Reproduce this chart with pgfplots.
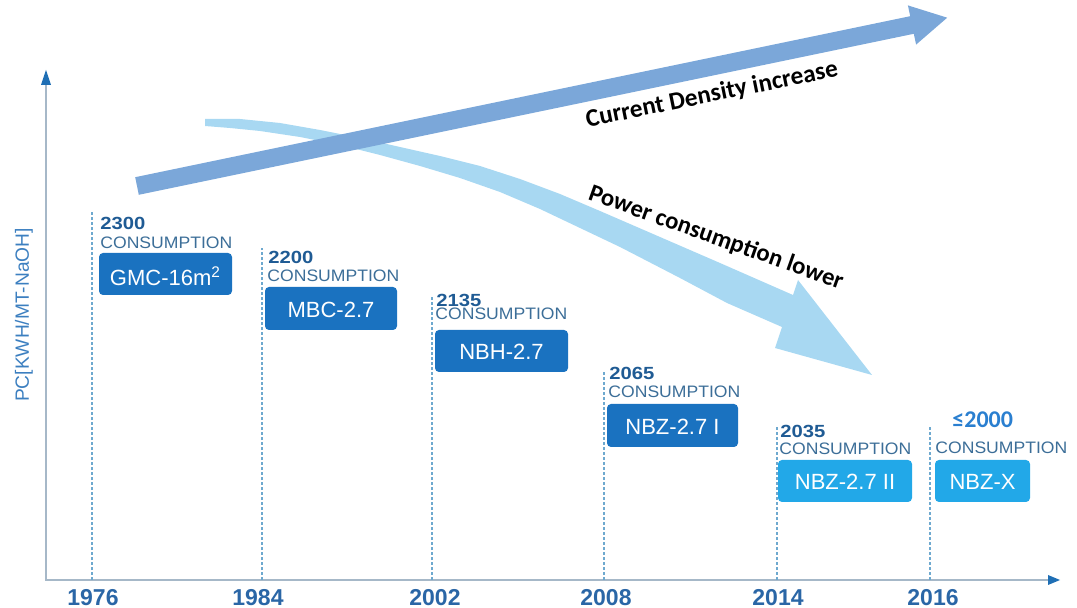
\documentclass[border=0pt]{standalone}
\usepackage{pgfplots}
\pgfplotsset{compat=1.18}
\usepackage{fontspec}
\setmainfont{Liberation Sans}
\newfontfamily\calfont{Carlito}
\definecolor{axisgray}{HTML}{A6B8C8}
\definecolor{arrowblue}{HTML}{1F6FB5}
\definecolor{dashblue}{HTML}{6EA9CF}
\definecolor{yearblue}{HTML}{2A66A6}
\definecolor{valblue}{HTML}{1F5B94}
\definecolor{consblue}{HTML}{3C6E98}
\definecolor{boxdark}{HTML}{1A72C0}
\definecolor{boxlight}{HTML}{22A8E8}
\definecolor{bigarrow}{HTML}{7BA7D9}
\definecolor{lightarrow}{HTML}{A8D8F2}
\definecolor{ylabblue}{HTML}{3C7FC0}
\definecolor{lessblue}{HTML}{2A7FD0}
\newcommand\yearfont{\fontsize{11.5pt}{13pt}\selectfont\bfseries}
\newcommand\valfont{\fontsize{8.8pt}{10pt}\selectfont\bfseries}
\newcommand\consfont{\fontsize{8.3pt}{10pt}\selectfont}
\newcommand\boxfont{\fontsize{11pt}{12pt}\selectfont}
\newcommand\V[1]{\scalebox{1.15}[1]{#1}}
\newcommand\C{\scalebox{1.06}[1]{CONSUMPTION}}
\tikzset{yr/.style={font=\yearfont,text=yearblue,inner sep=0},
  vl/.style={anchor=base west,inner sep=0,font=\valfont,text=valblue},
  cs/.style={anchor=base west,inner sep=0,font=\consfont,text=consblue},
  bx/.style={font=\boxfont,text=white}}
\begin{document}
\begin{tikzpicture}
\begin{axis}[width=538.5pt,height=304pt,scale only axis,hide axis,
  xmin=0,xmax=1077,ymin=0,ymax=608,y dir=reverse,clip=false]
\path (axis cs:0,0) rectangle (axis cs:1077,608);
% curved light arrow
\addplot[fill=lightarrow,draw=none] coordinates {
(205,119) (240,119) (280,123) (320,130) (360,138) (400,147) (440,156) (480,166) (520,179) (560,194)
(600,211) (660,237) (720,263) (793,295) (798,280) (872,375) (775,348) (782,327)
(727,303) (680,278) (620,247) (580,228) (540,209) (500,192) (460,178) (420,166) (380,155) (340,145)
(300,137) (260,131) (230,128) (205,126)} -- cycle;
% straight arrow
\addplot[fill=bigarrow,draw=none] coordinates {
(135.2,177.2) (910.2,16.2) (907.9,5.4) (947.2,17.7) (916.1,44.6) (913.8,33.8) (138.8,194.8)} -- cycle;
% axes
\addplot[axisgray,line width=1pt] coordinates {(46,84) (46,580) (1050,580)};
\addplot[fill=arrowblue,draw=none] coordinates {(41,85) (46,70) (51,85)} -- cycle;
\addplot[fill=arrowblue,draw=none] coordinates {(1048,575) (1060,580) (1048,585)} -- cycle;
% dashed lines
\pgfplotsset{dl/.style={dashblue,line width=0.6pt,dash pattern=on 1.5pt off 1pt}}
\addplot[dl] coordinates {(92,580) (92,212)};
\addplot[dl] coordinates {(262,580) (262,248)};
\addplot[dl] coordinates {(432,580) (432,297)};
\addplot[dl] coordinates {(604,580) (604,370)};
\addplot[dl] coordinates {(777,580) (777,427)};
\addplot[dl] coordinates {(930,580) (930,425)};
% years
\node[yr] at (axis cs:93,598) {1976};
\node[yr] at (axis cs:258,598) {1984};
\node[yr] at (axis cs:435,598) {2002};
\node[yr] at (axis cs:606,598) {2008};
\node[yr] at (axis cs:778,598) {2014};
\node[yr] at (axis cs:933,598) {2016};
% value labels
\node[vl] at (axis cs:100,230) {\V{2300}};
\node[vl] at (axis cs:268,264) {\V{2200}};
\node[vl] at (axis cs:436,307) {\V{2135}};
\node[vl] at (axis cs:609,380) {\V{2065}};
\node[vl] at (axis cs:780,438) {\V{2035}};
\node[anchor=base west,inner sep=0,font=\calfont\fontsize{12pt}{14pt}\selectfont\bfseries,text=lessblue] at (axis cs:952,428) {≤2000};
% consumption
\node[cs] at (axis cs:100,249) {\C};
\node[cs] at (axis cs:267,282) {\C};
\node[cs] at (axis cs:435,320) {\C};
\node[cs] at (axis cs:608,398) {\C};
\node[cs] at (axis cs:779,455) {\C};
\node[cs] at (axis cs:935,454) {\C};
% boxes
\fill[boxdark,rounded corners=2pt] (axis cs:99,253) rectangle (axis cs:232,295);
\fill[boxdark,rounded corners=2pt] (axis cs:265,287) rectangle (axis cs:397,330);
\fill[boxdark,rounded corners=2pt] (axis cs:435,330) rectangle (axis cs:568,372);
\fill[boxdark,rounded corners=2pt] (axis cs:607,404) rectangle (axis cs:738,447);
\fill[boxlight,rounded corners=2pt] (axis cs:778,460) rectangle (axis cs:912,502);
\fill[boxlight,rounded corners=2pt] (axis cs:935,460) rectangle (axis cs:1030,502);
\node[bx] at (axis cs:165.5,276) {GMC-16m\textsuperscript{2}};
\node[bx] at (axis cs:331,310) {MBC-2.7};
\node[bx] at (axis cs:501.5,352) {NBH-2.7};
\node[bx] at (axis cs:672.5,427) {NBZ-2.7 I};
\node[bx] at (axis cs:845,482) {NBZ-2.7 II};
\node[bx] at (axis cs:982.5,482) {NBZ-X};
% y label
\node[rotate=90,font=\fontsize{9.6pt}{11pt}\selectfont,text=ylabblue] at (axis cs:24,315) {PC[KWH/MT-NaOH]};
% arrow labels
\node[rotate=11.5,font=\calfont\fontsize{12.6pt}{14pt}\selectfont\bfseries] at (axis cs:712,95) {Current Density increase};
\node[rotate=-19.6,font=\calfont\fontsize{12.3pt}{14pt}\selectfont\bfseries] at (axis cs:716,238) {Power consumption lower};
\end{axis}
\end{tikzpicture}
\end{document}
